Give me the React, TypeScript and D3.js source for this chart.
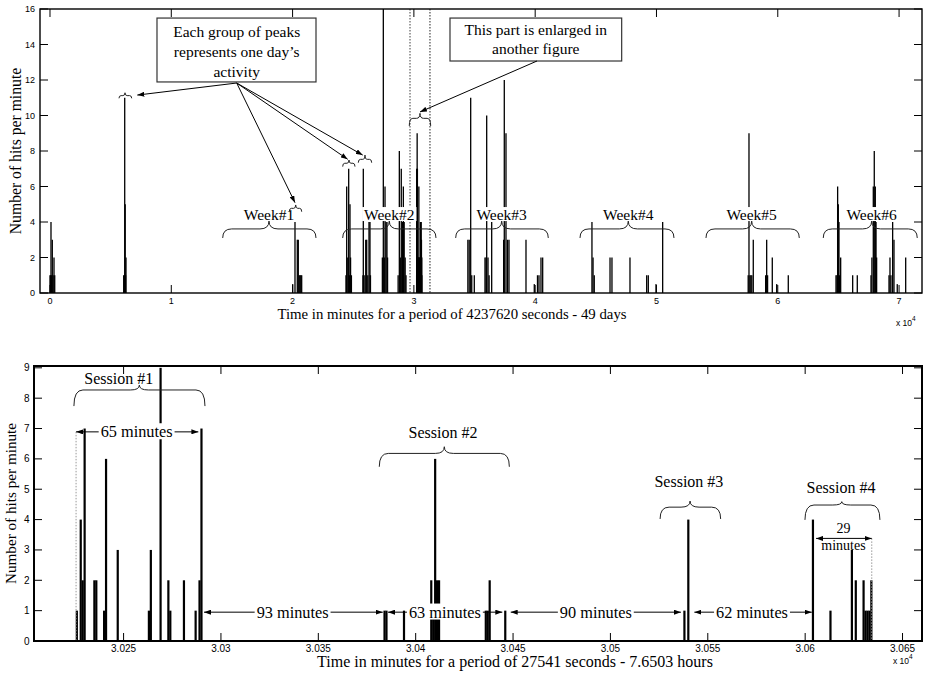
import React, { Component } from "react";
import * as d3 from "d3";

// top panel, the whole 49 days: [minute, hits per minute]
const dayBars: [number, number][] = [
  [0, 1], [50, 1], [82, 4], [130, 1], [190, 3], [260, 1], [330, 2], [390, 1],
  [6076, 1], [6130, 1], [6160, 11], [6200, 5], [6230, 1], [6265, 2],
  [20008, 0.5], [20198, 4], [20388, 3], [20470, 3], [20550, 1], [20620, 1], [20680, 1], [20750, 1],
  [24400, 1], [24460, 6], [24550, 2], [24625, 7], [24680, 1], [24732, 5], [24780, 2], [24850, 1],
  [25800, 1], [25830, 7], [25900, 1], [26030, 3], [26110, 3], [26200, 1], [26300, 4], [26380, 4], [26420, 1],
  [27400, 2], [27480, 17], [27560, 2], [27620, 6], [27700, 4], [27780, 4], [27830, 2],
  [28700, 1], [28800, 8], [28880, 2], [28960, 7], [29050, 4], [29130, 6], [29200, 4], [29280, 2], [29350, 1],
  [34450, 3], [34560, 3], [34683, 11], [34770, 1], [34980, 1], [35862, 2], [35950, 2], [36002, 10],
  [36110, 2], [36200, 1], [36414, 4], [37400, 3], [37453, 12], [37593, 9], [37717, 3], [37840, 3],
  [39242, 3], [39926, 0.5], [40190, 1], [40313, 1], [40478, 2], [40618, 2],
  [44680, 4], [44770, 2], [44870, 1], [46170, 2], [46330, 2], [47815, 2], [49192, 1], [49325, 1], [49960, 0.5], [50510, 4],
  [57560, 1], [57626, 9], [57700, 1], [57780, 1], [57860, 1], [57980, 3], [59000, 1], [59085, 3], [59160, 1],
  [59547, 2], [59910, 0.5], [60866, 1],
  [64800, 1], [64880, 1], [64935, 6], [64990, 5], [65045, 4], [65100, 1], [65185, 2], [66175, 1], [66555, 1],
  [67685, 1], [67760, 2], [67875, 6], [67955, 8], [68040, 6], [68100, 4], [68150, 2],
  [69170, 1], [69250, 2], [69330, 1], [69470, 4], [69580, 3], [69850, 0.5], [70545, 2],
];

// bottom panel, the enlarged part (also drawn in the top panel)
const sessionBars: [number, number][] = [
  [30226, 1], [30228, 4], [30229, 2], [30230, 7], [30235, 2], [30236, 2], [30240, 1], [30241, 6], [30247, 3],
  [30263, 1], [30264, 3], [30269, 9], [30273, 2], [30274, 1], [30281, 2], [30287, 1], [30289, 2], [30290, 7],
  [30384, 1], [30385, 1], [30394, 1], [30408, 2], [30409, 1], [30410, 6], [30411, 2], [30412, 2],
  [30436, 1], [30437, 1], [30438, 2], [30446, 1],
  [30538, 1], [30540, 4],
  [30604, 4], [30613, 1], [30624, 3], [30626, 2], [30630, 2], [30631, 1], [30632, 1], [30633, 1], [30634, 2],
];

const topXTicks = [0, 10000, 20000, 30000, 40000, 50000, 60000, 70000];
const topYTicks = [0, 2, 4, 6, 8, 10, 12, 14, 16];
const botXTicks = [30250, 30300, 30350, 30400, 30450, 30500, 30550, 30600, 30650];
const botYTicks = [0, 1, 2, 3, 4, 5, 6, 7, 8, 9];

// week braces (minutes)
const weekNames = ["Week#1", "Week#2", "Week#3", "Week#4", "Week#5", "Week#6"];
const weekStart = [14238, 24131, 33446, 43694, 54081, 63750];
const weekCusp = [18055, 27973, 37238, 47676, 57848, 67740];
const weekEnd = [21930, 31822, 41080, 51443, 61773, 71499];

// little braces over single days + where the arrows point
const dayBraceStart = [5689, 19728, 24131, 25417];
const dayBraceCusp = [6184, 20256, 24650, 25969];
const dayBraceEnd = [6736, 20751, 25145, 26521];
const dayBraceEndY = [10.97, 4.58, 7.12, 7.34];
const dayBraceFlatY = [11.12, 4.77, 7.31, 7.53];
const dayBraceCuspY = [11.28, 4.96, 7.49, 7.77];
const dayArrowTipX = [7198, 20198, 24543, 25780];
const dayArrowTipY = [11.15, 5.09, 7.53, 7.77];

const boxOneLines = ["Each group of peaks", "represents one day\u2019s", "activity"];
const boxTwoLines = ["This part is enlarged in", "another figure"];
const enlargedLines = [29680, 31327];

// bottom panel annotations
const sessionNames = ["Session #1", "Session #2", "Session #3", "Session #4"];
const sessionStart = [30224.5, 30381.3, 30525.5, 30599.9];
const sessionCusp = [30258.1, 30414.7, 30540.9, 30618.8];
const sessionEnd = [30291.8, 30448.1, 30556.6, 30638.4];
const sessionEndY = [7.74, 5.74, 4.02, 3.99];
const sessionFlatY = [8.27, 6.18, 4.41, 4.48];
const sessionCuspY = [8.43, 6.4, 4.61, 4.59];
const sessionLabelX = [30247.5, 30414, 30540.3, 30618.4];
const sessionLabelY = [8.47, 6.68, 5.08, 4.88];

const gapLabels = ["65 minutes", "93 minutes", "63 minutes", "90 minutes", "62 minutes"];
const gapFrom = [30225.6, 30291.3, 30385.8, 30448.8, 30543.1];
const gapTo = [30288.4, 30383.1, 30444.5, 30536.2, 30603.4];
const gapLabelX = [30256.7, 30336.8, 30415, 30492.5, 30572.7];
const gapY = [6.89, 0.95, 0.95, 0.95, 0.95];

class App extends Component {
  svgRef = React.createRef<SVGSVGElement>();

  componentDidMount() {
    this.drawChart();
  }

  drawChart() {
    const serif = "'Liberation Serif','Times New Roman',Times,serif";
    const sans = "'Liberation Sans',Arial,Helvetica,sans-serif";
    const svg = d3.select(this.svgRef.current);
    svg.selectAll("*").remove();

    const defs = svg.append("defs");
    defs.append("marker").attr("id", "head").attr("viewBox", "0 0 10 10")
      .attr("refX", 10).attr("refY", 5).attr("markerWidth", 7).attr("markerHeight", 5)
      .attr("markerUnits", "userSpaceOnUse").attr("preserveAspectRatio", "none")
      .attr("orient", "auto-start-reverse")
      .append("path").attr("d", "M0,0L10,5L0,10z").attr("fill", "black");

    const brace = (g: any, xa: number, xc: number, xb: number, yEnd: number, yFlat: number, yCusp: number) => {
      const r = Math.min(9, (xb - xa) / 6);
      const d = `M${xa},${yEnd}Q${xa},${yFlat} ${xa + r},${yFlat}L${xc - r},${yFlat}Q${xc},${yFlat} ${xc},${yCusp}` +
        `Q${xc},${yFlat} ${xc + r},${yFlat}L${xb - r},${yFlat}Q${xb},${yFlat} ${xb},${yEnd}`;
      g.append("path").attr("d", d).attr("fill", "none").attr("stroke", "#222").attr("stroke-width", 1);
    };

    // text with a white patch behind it (covers bars like the original)
    const label = (g: any, x: number, y: number, txt: string, size: number, centerY = false) => {
      const t = g.append("text").attr("x", x).attr("y", y).attr("text-anchor", "middle")
        .style("font-family", serif).style("font-size", size + "px").text(txt);
      if (centerY) t.attr("dy", "0.33em");
      const bb = t.node().getBBox();
      g.insert("rect", () => t.node())
        .attr("x", bb.x - 2).attr("y", bb.y + 1).attr("width", bb.width + 4).attr("height", bb.height - 3)
        .attr("fill", "white");
      return t;
    };

    // ================= TOP PANEL =================
    const x1 = d3.scaleLinear().domain([-824, 71890]).range([40, 922]);
    const y1 = d3.scaleLinear().domain([0, 16]).range([293, 9]);
    const [L1, R1] = x1.range();
    const [B1, T1] = y1.range();

    defs.append("clipPath").attr("id", "topClip").append("rect")
      .attr("x", L1).attr("y", T1).attr("width", R1 - L1).attr("height", B1 - T1);

    const top = svg.append("g");
    top.append("g").attr("clip-path", "url(#topClip)")
      .selectAll("rect").data(dayBars.concat(sessionBars)).join("rect")
      .attr("x", d => x1(d[0]) - 0.65).attr("width", 1.3)
      .attr("y", d => y1(Math.min(d[1], 16.5)))
      .attr("height", d => B1 - y1(Math.min(d[1], 16.5)))
      .attr("fill", "black");

    // dotted lines framing the enlarged part
    top.selectAll(".dots").data(enlargedLines).join("line")
      .attr("x1", d => x1(d)).attr("x2", d => x1(d)).attr("y1", T1).attr("y2", B1)
      .attr("stroke", (d, i) => (i === 0 ? "#888" : "#222")).attr("stroke-width", (d, i) => (i === 0 ? 1.6 : 1))
      .attr("stroke-dasharray", "1.5,1.5");

    // week braces
    weekNames.forEach((w, i) => {
      brace(top, x1(weekStart[i]), x1(weekCusp[i]), x1(weekEnd[i]), y1(3.1), y1(3.61), y1(4.06));
      label(top, x1(weekCusp[i]), y1(4.11), w, 15.5);
    });

    // small braces over single days
    dayBraceStart.forEach((s, i) => {
      brace(top, x1(s), x1(dayBraceCusp[i]), x1(dayBraceEnd[i]), y1(dayBraceEndY[i]), y1(dayBraceFlatY[i]), y1(dayBraceCuspY[i]));
    });
    brace(top, x1(29621), x1(30503), x1(31385), y1(9.41), y1(9.84), y1(10.12));

    // callout boxes
    const boxes = [
      { x0: 8821, x1: 21930, yTop: 15.49, yBot: 11.89, cx: 15393, lines: boxOneLines, base: [14.42, 13.3, 12.17] },
      { x0: 32977, x1: 47131, yTop: 15.49, yBot: 13.07, cx: 40048, lines: boxTwoLines, base: [14.51, 13.49] },
    ];
    boxes.forEach(b => {
      top.append("rect").attr("x", x1(b.x0)).attr("y", y1(b.yTop))
        .attr("width", x1(b.x1) - x1(b.x0)).attr("height", y1(b.yBot) - y1(b.yTop))
        .attr("fill", "white").attr("stroke", "#333").attr("stroke-width", 1.2);
      b.lines.forEach((ln, j) => {
        top.append("text").attr("x", x1(b.cx)).attr("y", y1(b.base[j])).attr("text-anchor", "middle")
          .style("font-family", serif).style("font-size", "15.5px").text(ln);
      });
    });

    // arrows from the callouts
    dayArrowTipX.forEach((tx, i) => {
      top.append("line").attr("x1", x1(15392)).attr("y1", y1(11.83))
        .attr("x2", x1(tx)).attr("y2", y1(dayArrowTipY[i]))
        .attr("stroke", "black").attr("stroke-width", 1).attr("marker-end", "url(#head)");
    });
    top.append("line").attr("x1", x1(40149)).attr("y1", y1(13.07))
      .attr("x2", x1(30503)).attr("y2", y1(10.2))
      .attr("stroke", "black").attr("stroke-width", 1).attr("marker-end", "url(#head)");

    // frame and ticks
    top.append("rect").attr("x", L1).attr("y", T1).attr("width", R1 - L1).attr("height", B1 - T1)
      .attr("fill", "none").attr("stroke", "black").attr("stroke-width", 1.4);
    const tk1 = top.append("g").attr("stroke", "black").attr("stroke-width", 1);
    topXTicks.forEach(v => {
      tk1.append("line").attr("x1", x1(v)).attr("x2", x1(v)).attr("y1", B1).attr("y2", B1 - 8);
      tk1.append("line").attr("x1", x1(v)).attr("x2", x1(v)).attr("y1", T1).attr("y2", T1 + 8);
    });
    topYTicks.forEach(v => {
      tk1.append("line").attr("x1", L1).attr("x2", L1 + 8).attr("y1", y1(v)).attr("y2", y1(v));
      tk1.append("line").attr("x1", R1).attr("x2", R1 - 8).attr("y1", y1(v)).attr("y2", y1(v));
    });
    top.selectAll(".xl").data(topXTicks).join("text")
      .attr("x", d => x1(d)).attr("y", 304).attr("text-anchor", "middle")
      .style("font-family", sans).style("font-size", "9px").text(d => String(d / 10000));
    top.selectAll(".yl").data(topYTicks).join("text")
      .attr("x", 35).attr("y", d => y1(d)).attr("dy", "0.35em").attr("text-anchor", "end")
      .style("font-family", sans).style("font-size", "9px").text(d => String(d));

    top.append("text").attr("x", 452).attr("y", 318.5).attr("text-anchor", "middle")
      .style("font-family", serif).style("font-size", "14.8px")
      .text("Time in minutes for a period of 4237620 seconds - 49 days");
    top.append("text").attr("transform", `translate(21,${(T1 + B1) / 2}) rotate(-90)`)
      .attr("text-anchor", "middle").style("font-family", serif).style("font-size", "15.7px")
      .text("Number of hits per minute");
    const e1 = top.append("text").attr("x", 896).attr("y", 325.5).style("font-family", sans).style("font-size", "8.5px");
    e1.append("tspan").text("x 10");
    e1.append("tspan").attr("dy", -5).style("font-size", "6.5px").text("4");

    // ================= BOTTOM PANEL =================
    const x2 = d3.scaleLinear().domain([30204, 30660]).range([34, 922]);
    const y2 = d3.scaleLinear().domain([0, 9.06]).range([641, 366]);
    const [L2, R2] = x2.range();
    const [B2, T2] = y2.range();

    const bot = svg.append("g");
    bot.selectAll("rect.bar").data(sessionBars).join("rect").attr("class", "bar")
      .attr("x", d => x2(d[0]) - 1.1).attr("width", 2.2)
      .attr("y", d => y2(d[1])).attr("height", d => B2 - y2(d[1]))
      .attr("fill", "black");

    // dotted guides of the 65 and 29 minute spans
    [[30225.6, 6.89], [30634.2, 3.38]].forEach(g => {
      bot.append("line").attr("x1", x2(g[0])).attr("x2", x2(g[0])).attr("y1", y2(g[1])).attr("y2", B2)
        .attr("stroke", "#999").attr("stroke-width", 1).attr("stroke-dasharray", "1.5,1.5");
    });

    sessionNames.forEach((s, i) => {
      brace(bot, x2(sessionStart[i]), x2(sessionCusp[i]), x2(sessionEnd[i]),
        y2(sessionEndY[i]), y2(sessionFlatY[i]), y2(sessionCuspY[i]));
      bot.append("text").attr("x", x2(sessionLabelX[i])).attr("y", y2(sessionLabelY[i]))
        .attr("text-anchor", "middle").style("font-family", serif).style("font-size", "16px").text(s);
    });

    gapLabels.forEach((g, i) => {
      bot.append("line").attr("x1", x2(gapFrom[i])).attr("x2", x2(gapTo[i]))
        .attr("y1", y2(gapY[i])).attr("y2", y2(gapY[i]))
        .attr("stroke", "black").attr("stroke-width", 1)
        .attr("marker-start", "url(#head)").attr("marker-end", "url(#head)");
      label(bot, x2(gapLabelX[i]), y2(gapY[i]), g, 16.3, true);
    });

    // 29 minutes
    bot.append("line").attr("x1", x2(30605.6)).attr("x2", x2(30634.2)).attr("y1", y2(3.38)).attr("y2", y2(3.38))
      .attr("stroke", "black").attr("stroke-width", 1)
      .attr("marker-start", "url(#head)").attr("marker-end", "url(#head)");
    bot.append("text").attr("x", x2(30619.7)).attr("y", y2(3.56)).attr("text-anchor", "middle")
      .style("font-family", serif).style("font-size", "14px").text("29");
    bot.append("text").attr("x", x2(30619.7)).attr("y", y2(3.0)).attr("text-anchor", "middle")
      .style("font-family", serif).style("font-size", "14px").text("minutes");

    bot.append("rect").attr("x", L2).attr("y", T2).attr("width", R2 - L2).attr("height", B2 - T2)
      .attr("fill", "none").attr("stroke", "black").attr("stroke-width", 2);
    const tk2 = bot.append("g").attr("stroke", "black").attr("stroke-width", 1);
    botXTicks.forEach(v => {
      tk2.append("line").attr("x1", x2(v)).attr("x2", x2(v)).attr("y1", B2).attr("y2", B2 - 8);
      tk2.append("line").attr("x1", x2(v)).attr("x2", x2(v)).attr("y1", T2).attr("y2", T2 + 8);
    });
    botYTicks.forEach(v => {
      tk2.append("line").attr("x1", L2).attr("x2", L2 + 8).attr("y1", y2(v)).attr("y2", y2(v));
      tk2.append("line").attr("x1", R2).attr("x2", R2 - 8).attr("y1", y2(v)).attr("y2", y2(v));
    });
    bot.selectAll(".xl").data(botXTicks).join("text")
      .attr("x", d => x2(d)).attr("y", 652).attr("text-anchor", "middle")
      .style("font-family", sans).style("font-size", "10px").text(d => String(+(d / 10000).toFixed(3)));
    bot.selectAll(".yl").data(botYTicks).join("text")
      .attr("x", 29.5).attr("y", d => y2(d)).attr("dy", "0.35em").attr("text-anchor", "end")
      .style("font-family", sans).style("font-size", "10px").text(d => String(d));

    bot.append("text").attr("x", 515).attr("y", 666.5).attr("text-anchor", "middle")
      .style("font-family", serif).style("font-size", "16px")
      .text("Time in minutes for a period of 27541 seconds - 7.6503 hours");
    bot.append("text").attr("transform", `translate(16,${(T2 + B2) / 2}) rotate(-90)`)
      .attr("text-anchor", "middle").style("font-family", serif).style("font-size", "15.2px")
      .text("Number of hits per minute");
    const e2 = bot.append("text").attr("x", 893).attr("y", 664).style("font-family", sans).style("font-size", "8.5px");
    e2.append("tspan").text("x 10");
    e2.append("tspan").attr("dy", -5).style("font-size", "6.5px").text("4");
  }

  render() {
    return (
      <svg ref={this.svgRef} width={930} height={676}
        style={{ position: "absolute", left: 0, top: 0, background: "white" }} />
    );
  }
}

export default App;
